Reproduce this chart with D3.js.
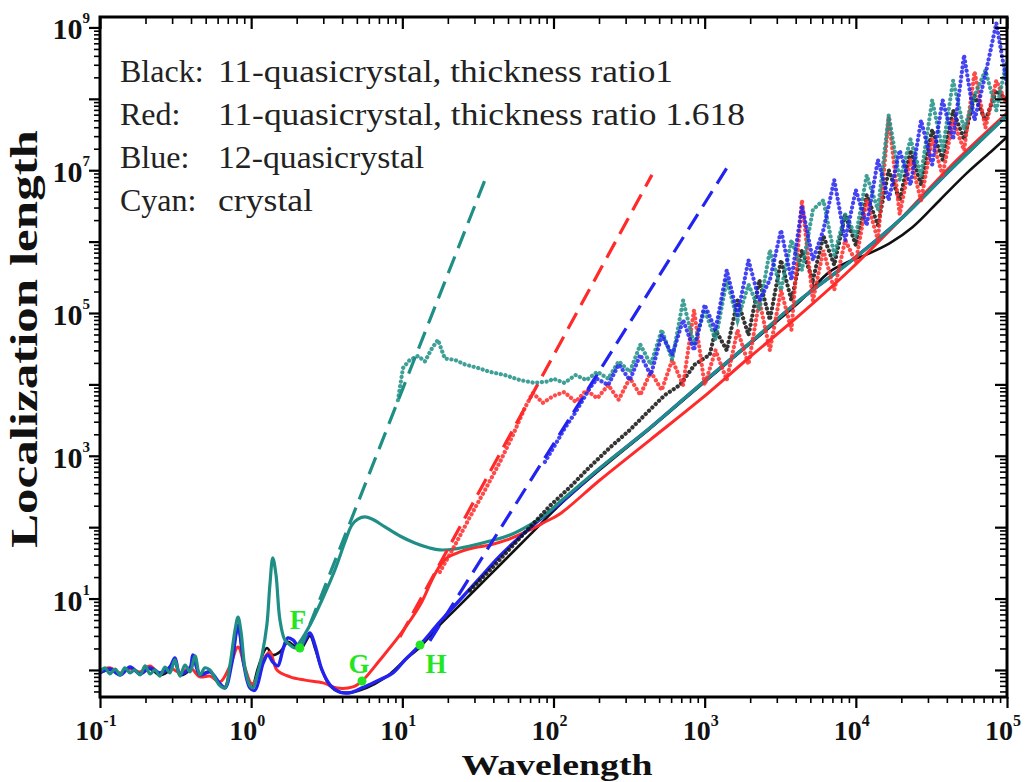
<!DOCTYPE html>
<html>
<head>
<meta charset="utf-8">
<script src="https://cdn.jsdelivr.net/npm/d3@7"></script>
<style>
  body { margin: 0; background: #fff; }
  text { font-family: "Liberation Serif", "Times New Roman", serif; }
</style>
</head>
<body>
<svg id="chart" width="1030" height="782"></svg>
<script>
// ---- data (wavelength, localization length) ----

// solid (averaged) curves
var tealLambda = [0.1, 0.108, 0.116, 0.126, 0.136, 0.146, 0.158, 0.170, 0.184, 0.199, 0.214, 0.231, 0.249, 0.269, 0.290, 0.313, 0.338, 0.365, 0.394, 0.425, 0.458, 0.494, 0.534, 0.576, 0.622, 0.671, 0.724, 0.782, 0.819, 0.857, 0.910, 0.982, 1.03, 1.09, 1.18, 1.27, 1.33, 1.39, 1.46, 1.55, 1.67, 1.81, 1.95, 2.10, 2.45, 2.94, 3.58, 4.17, 4.64, 5.08, 5.66, 6.30, 7.67, 9.64, 12.1, 15.2, 17.7, 22.3, 28.0, 38.0, 51.5, 69.8, 87.7, 110, 203, 434, 930, 1990, 4260, 9120, 19500, 41900, 100000];
var tealL = [0.94, 1.07, 0.88, 1.03, 0.85, 1.07, 0.91, 1.0, 0.85, 1.14, 0.88, 1.0, 0.82, 1.10, 0.91, 1.38, 0.82, 1.17, 0.94, 1.57, 0.85, 1.07, 1.0, 0.77, 0.60, 0.56, 1.17, 3.63, 5.52, 3.41, 1.07, 0.60, 0.56, 0.82, 1.62, 4.27, 15.5, 37.1, 21.4, 5.01, 2.63, 2.24, 2.03, 2.47, 4.27, 9.55, 25.1, 61.9, 108, 130, 139, 130, 101, 75.3, 60.1, 51.1, 48.0, 49.5, 54.5, 64.1, 77.8, 108, 148, 225, 675, 2450, 9810, 3.8e4, 1.52e5, 5.18e5, 2.0e6, 1.0e7, 5.9e7];

var blackLambda = [0.1, 0.116, 0.136, 0.158, 0.184, 0.214, 0.249, 0.290, 0.313, 0.338, 0.394, 0.425, 0.458, 0.534, 0.622, 0.671, 0.724, 0.819, 0.910, 1.01, 1.11, 1.27, 1.39, 1.55, 1.75, 1.89, 2.10, 2.45, 2.64, 2.94, 3.32, 3.86, 4.50, 5.24, 6.59, 8.28, 10.4, 13.1, 17.7, 24.0, 32.6, 44.2, 69.8, 110, 203, 434, 930, 1990, 4260, 6730, 9120, 12400, 16800, 23800, 36000, 54200, 80600, 100000];
var blackL = [0.91, 1.0, 0.88, 1.07, 0.91, 1.03, 0.85, 1.0, 1.29, 0.85, 1.0, 1.38, 0.88, 0.94, 0.62, 0.58, 1.07, 3.63, 1.0, 0.56, 1.07, 2.03, 1.62, 1.79, 2.47, 2.24, 1.91, 3.0, 2.03, 1.0, 0.60, 0.49, 0.48, 0.52, 0.64, 0.88, 1.38, 2.10, 4.27, 8.1, 15.5, 29.5, 78, 205, 640, 2400, 9500, 3.7e4, 1.45e5, 3.8e5, 5.3e5, 6.9e5, 9.5e5, 1.6e6, 3.83e6, 9.1e6, 1.92e7, 2.92e7];

var redLambda = [0.1, 0.116, 0.136, 0.158, 0.184, 0.214, 0.249, 0.290, 0.338, 0.394, 0.458, 0.534, 0.622, 0.724, 0.819, 0.910, 1.01, 1.11, 1.20, 1.33, 1.48, 1.81, 2.27, 2.99, 3.69, 4.71, 5.41, 7.11, 9.64, 13.1, 15.7, 17.7, 19.7, 24.0, 29.3, 38.0, 49.2, 69.8, 87.7, 110, 203, 434, 930, 1990, 4260, 9120, 19500, 41900, 100000];
var redL = [0.97, 1.07, 0.91, 1.03, 0.94, 1.14, 0.88, 1.07, 0.91, 1.07, 0.80, 0.82, 0.68, 1.14, 2.10, 1.07, 0.64, 0.82, 1.38, 1.79, 1.0, 0.80, 0.72, 0.66, 0.56, 0.58, 0.70, 1.38, 3.09, 8.1, 18.2, 28.6, 37.1, 45, 51.1, 56.3, 66.2, 91.4, 118, 153, 458, 1660, 6050, 2.42e4, 9.4e4, 4.0e5, 2.0e6, 1.11e7, 6.3e7];

var blueLambda = [0.1, 0.116, 0.136, 0.158, 0.184, 0.214, 0.249, 0.290, 0.313, 0.338, 0.394, 0.412, 0.458, 0.534, 0.622, 0.671, 0.747, 0.819, 0.896, 0.982, 1.06, 1.20, 1.29, 1.39, 1.50, 1.62, 1.75, 1.89, 2.10, 2.27, 2.45, 2.64, 2.94, 3.32, 3.86, 4.50, 5.41, 6.59, 8.67, 10.4, 13.1, 17.7, 24.0, 32.6, 44.2, 69.8, 110, 203, 434, 930, 1990, 4260, 9120, 19500, 41900, 100000];
var blueL = [0.91, 1.03, 0.85, 1.10, 0.88, 1.07, 0.91, 1.10, 1.47, 0.88, 1.07, 1.62, 0.85, 0.94, 0.64, 0.56, 1.29, 4.27, 1.17, 0.56, 0.52, 1.25, 1.62, 1.29, 1.14, 1.91, 2.81, 2.63, 2.03, 2.63, 3.30, 2.24, 1.0, 0.62, 0.49, 0.48, 0.56, 0.68, 0.91, 1.38, 2.24, 4.70, 9.55, 19.4, 39.5, 97.5, 215, 670, 2450, 9810, 3.8e4, 1.52e5, 5.2e5, 2.0e6, 1.0e7, 5.9e7];

// dashed asymptotes (end points)
var tealDashLambda = [2.10, 35.2];
var tealDashL = [1.9, 7.3e6];
var redDashLambda = [9.64, 448];
var redDashL = [2.9, 8.6e6];
var blueDashLambda = [15.2, 1400];
var blueDashL = [2.55, 1.07e7];

// dotted (single sample) curves
var tealDotLambda = [9.35, 10.1, 11.2, 12.7, 14.1, 15.7, 17.2, 19.1, 22.3, 26, 31.6, 38, 47.7, 60, 75, 92, 100, 118, 140, 165, 195, 230, 270, 320, 375, 440, 520, 610, 720, 850, 1000, 1180, 1400, 1650, 1950, 2300, 2700, 3200, 3750, 4400, 5200, 6100, 7200, 8500, 10000, 11800, 14000, 16500, 19500, 23000, 27000, 32000, 37500, 44000, 52000, 61000, 72000, 85000, 100000];
var tealDotL = [6000, 1.7e4, 2.2e4, 2.5e4, 2.1e4, 3.2e4, 4.2e4, 2.3e4, 2.2e4, 1.9e4, 1.7e4, 1.5e4, 1.35e4, 1.15e4, 1.05e4, 1.1e4, 1.2e4, 1.05e4, 1.35e4, 1.15e4, 1.5e4, 1.2e4, 2.1e4, 1.5e4, 3.6e4, 1.9e4, 5.8e4, 2.2e4, 1.5e5, 3.6e4, 1.1e5, 4.2e4, 2.9e5, 8.0e4, 2.5e5, 1.1e5, 7.6e5, 2.1e5, 1.05e6, 4.0e5, 2.8e6, 3.8e6, 6.5e5, 2.4e6, 1.2e6, 8.5e6, 2.8e6, 5.9e7, 7.3e6, 2.7e7, 8.5e6, 9.6e7, 1.9e7, 1.8e8, 3.7e7, 1.1e8, 2.5e8, 6.9e7, 3.5e8];

var redDotLambda = [17.7, 22.3, 28.0, 35.2, 44.2, 53.9, 64.7, 73, 85, 100, 118, 140, 165, 195, 230, 270, 320, 375, 440, 520, 610, 720, 850, 1000, 1180, 1400, 1650, 1950, 2300, 2700, 3200, 3750, 4400, 5200, 6100, 7200, 8500, 10000, 11800, 14000, 16500, 19500, 23000, 27000, 32000, 37500, 44000, 52000, 61000, 72000, 85000, 100000];
var redDotL = [23.6, 56, 139, 330, 815, 1950, 4700, 7600, 5500, 6900, 7800, 5700, 8300, 6400, 9800, 6100, 1.23e4, 7100, 1.5e4, 8300, 2.2e4, 9800, 1.1e5, 9800, 3.0e4, 1.15e4, 5.8e4, 1.9e4, 1.5e5, 3.0e4, 2.1e5, 5.8e4, 3.8e6, 1.5e5, 7.6e5, 2.1e5, 1.05e6, 5.2e5, 3.8e6, 1.05e6, 5.6e7, 2.4e6, 1.4e7, 3.8e6, 2.7e7, 8.5e6, 5.0e7, 1.9e7, 2.4e8, 3.9e7, 1.8e8, 8.2e7];

var blueDotLambda = [87.7, 102, 119, 139, 156, 174, 194, 230, 270, 320, 375, 440, 520, 610, 720, 850, 1000, 1180, 1400, 1650, 1950, 2300, 2700, 3200, 3750, 4400, 5200, 6100, 7200, 8500, 10000, 11800, 14000, 16500, 19500, 23000, 27000, 32000, 37500, 44000, 52000, 61000, 72000, 85000, 100000];
var blueDotL = [820, 1400, 2450, 4000, 6000, 8900, 1.2e4, 9800, 1.9e4, 1.15e4, 2.6e4, 1.35e4, 4.9e4, 2.6e4, 8.0e4, 3.0e4, 1.3e5, 5.8e4, 4.0e5, 9.4e4, 5.5e5, 1.5e5, 2.9e5, 1.45e6, 2.9e5, 3.2e6, 5.5e5, 1.45e6, 7.3e6, 1.05e6, 5.3e6, 1.7e6, 1.4e7, 3.8e6, 1.9e7, 6.2e6, 5.0e7, 1.2e7, 9.6e7, 2.7e7, 4.1e8, 5.0e7, 2.2e8, 1.15e9, 1.55e8];

var blackDotLambda = [28, 38, 51.5, 70, 95, 128, 174, 236, 320, 434, 546, 686, 861, 1080, 1180, 1400, 1650, 1950, 2300, 2700, 3200, 3750, 4400, 5200, 6100, 7200, 8500, 10000, 11800, 14000, 16500, 19500, 23000, 27000, 32000, 37500, 44000, 52000, 61000, 72000, 85000, 100000];
var blackDotL = [13, 25, 50, 100, 200, 360, 700, 1300, 2300, 4400, 7100, 9800, 1.9e4, 2.6e4, 5.8e4, 3.0e4, 1.5e5, 4.9e4, 2.9e5, 8.0e4, 5.5e5, 1.5e5, 7.6e5, 2.9e5, 1.2e6, 4.7e5, 2.4e6, 8.9e5, 4.5e6, 1.7e6, 1.0e7, 3.8e6, 1.9e7, 6.2e6, 3.7e7, 1.4e7, 6.9e7, 2.7e7, 1.1e8, 5.0e7, 1.3e8, 9.6e7];

// marked points F, G, H
var markNames = ["F", "G", "H"];
var markLambda = [2.10, 5.41, 13.1];
var markL = [2.03, 0.70, 2.24];

var legendKeys = ["Black:", "Red:", "Blue:", "Cyan:"];
var legendTexts = ["11-quasicrystal, thickness ratio1", "11-quasicrystal, thickness ratio 1.618", "12-quasicrystal", "crystal"];

var xDecades = [-1, 0, 1, 2, 3, 4, 5];
var yDecades = [0, 1, 2, 3, 4, 5, 6, 7, 8, 9];
var yLabelDecades = [1, 3, 5, 7, 9];

// ---- colours ----
var cTeal = "#1f8f86", cRed = "#ff2a2a", cBlue = "#2323f0", cBlack = "#111111", cGreen = "#22e622";

var svg = d3.select("#chart");
svg.append("rect").attr("width", 1030).attr("height", 782).attr("fill", "#fff");

var x = d3.scaleLog().domain([0.1, 1e5]).range([100, 1007]);
var y = d3.scaleLog().domain([0.418, 1.4e9]).range([697, 17]);

svg.append("clipPath").attr("id", "plotclip")
  .append("rect").attr("x", 100).attr("y", 17).attr("width", 907).attr("height", 680);
var plot = svg.append("g").attr("clip-path", "url(#plotclip)");

function pairs(lam, val) {
  return lam.map(function (l, i) { return [l, val[i]]; });
}

var smooth = d3.line()
  .x(function (d) { return x(d[0]); })
  .y(function (d) { return y(d[1]); })
  .curve(d3.curveCatmullRom.alpha(0.5));
var straight = d3.line()
  .x(function (d) { return x(d[0]); })
  .y(function (d) { return y(d[1]); });

// solid lines
var solids = [
  { lam: blackLambda, val: blackL, color: cBlack, w: 2.6 },
  { lam: redLambda, val: redL, color: cRed, w: 3 },
  { lam: blueLambda, val: blueL, color: cBlue, w: 3.4 },
  { lam: tealLambda, val: tealL, color: cTeal, w: 3.2 }
];
// dashed lines
var dashes = [
  { lam: tealDashLambda, val: tealDashL, color: cTeal },
  { lam: redDashLambda, val: redDashL, color: cRed },
  { lam: blueDashLambda, val: blueDashL, color: cBlue }
];
// dotted lines
var dots = [
  { lam: blackDotLambda, val: blackDotL, color: cBlack },
  { lam: redDotLambda, val: redDotL, color: cRed },
  { lam: tealDotLambda, val: tealDotL, color: cTeal },
  { lam: blueDotLambda, val: blueDotL, color: cBlue }
];

plot.selectAll("path.solid").data(solids).enter().append("path")
  .attr("class", "solid")
  .attr("d", function (s) { return smooth(pairs(s.lam, s.val)); })
  .attr("fill", "none")
  .attr("stroke", function (s) { return s.color; })
  .attr("stroke-width", function (s) { return s.w; })
  .attr("stroke-linejoin", "round");

plot.selectAll("path.dash").data(dashes).enter().append("path")
  .attr("class", "dash")
  .attr("d", function (s) { return straight(pairs(s.lam, s.val)); })
  .attr("fill", "none")
  .attr("stroke", function (s) { return s.color; })
  .attr("stroke-width", 3.2)
  .attr("stroke-dasharray", "18,9");

plot.selectAll("path.dot").data(dots).enter().append("path")
  .attr("class", "dot")
  .attr("d", function (s) { return straight(pairs(s.lam, s.val)); })
  .attr("fill", "none")
  .attr("stroke", function (s) { return s.color; })
  .attr("stroke-width", 4.2)
  .attr("stroke-linecap", "round")
  .attr("stroke-dasharray", "0.1,4.6")
  .attr("opacity", 0.85);

// F, G, H marks
var marks = markNames.map(function (n, i) { return { name: n, lam: markLambda[i], val: markL[i] }; });
plot.selectAll("circle.mark").data(marks).enter().append("circle")
  .attr("class", "mark")
  .attr("cx", function (d) { return x(d.lam); })
  .attr("cy", function (d) { return y(d.val); })
  .attr("r", 4.5)
  .attr("fill", cGreen);
var markOffset = { F: [-2, -19], G: [-3, -8], H: [16, 28] };
svg.selectAll("text.mark").data(marks).enter().append("text")
  .attr("class", "mark")
  .attr("x", function (d) { return x(d.lam) + markOffset[d.name][0]; })
  .attr("y", function (d) { return y(d.val) + markOffset[d.name][1]; })
  .attr("text-anchor", "middle")
  .attr("font-weight", "bold")
  .attr("font-size", 27)
  .attr("fill", cGreen)
  .text(function (d) { return d.name; });

// ---- axes ----
var xMajor = xDecades.map(function (k) { return Math.pow(10, k); });
var xMinor = [];
xMajor.slice(0, -1).forEach(function (m) { for (var j = 2; j < 10; j++) xMinor.push(m * j); });
var yMajor = yDecades.map(function (k) { return Math.pow(10, k); });
var yMinor = [];
[0.1].concat(yMajor).forEach(function (m) {
  for (var j = 2; j < 10; j++) {
    var v = m * j;
    if (v > y.domain()[0] && v < y.domain()[1]) yMinor.push(v);
  }
});

function drawAxis(gen, transform, values, size, width) {
  var g = svg.append("g").attr("transform", transform)
    .call(gen.tickValues(values).tickSize(size).tickFormat(""));
  g.select(".domain").remove();
  g.selectAll("line").attr("stroke", "#000").attr("stroke-width", width);
}
// bottom and left ticks point outwards, top and right ticks inwards
drawAxis(d3.axisBottom(x), "translate(0,697)", xMajor, 11, 2.2);
drawAxis(d3.axisBottom(x), "translate(0,697)", xMinor, 6, 1.6);
drawAxis(d3.axisLeft(y), "translate(100,0)", yMajor, 11, 2.2);
drawAxis(d3.axisLeft(y), "translate(100,0)", yMinor, 6, 1.6);
drawAxis(d3.axisTop(x), "translate(0,17)", xMajor, -12, 2.2);
drawAxis(d3.axisTop(x), "translate(0,17)", xMinor, -7, 1.6);
drawAxis(d3.axisRight(y), "translate(1007,0)", yMajor, -12, 2.2);
drawAxis(d3.axisRight(y), "translate(1007,0)", yMinor, -7, 1.6);

svg.append("rect")
  .attr("x", 100).attr("y", 17).attr("width", 907).attr("height", 680)
  .attr("fill", "none").attr("stroke", "#000").attr("stroke-width", 3);

// tick labels: 10 with superscript
var xl = svg.selectAll("text.xlab").data(xDecades).enter().append("text")
  .attr("class", "xlab")
  .attr("x", function (k) { return x(Math.pow(10, k)) - 4; })
  .attr("y", 740)
  .attr("text-anchor", "middle")
  .attr("font-weight", "bold")
  .attr("font-size", 28)
  .attr("fill", "#111");
xl.append("tspan").text("10");
xl.append("tspan").attr("font-size", 16).attr("dy", -14).text(function (k) { return k; });

var yl = svg.selectAll("text.ylab").data(yLabelDecades).enter().append("text")
  .attr("class", "ylab")
  .attr("x", 90)
  .attr("y", function (k) { return y(Math.pow(10, k)) + 12; })
  .attr("text-anchor", "end")
  .attr("font-weight", "bold")
  .attr("font-size", 30)
  .attr("fill", "#111");
yl.append("tspan").text("10");
yl.append("tspan").attr("font-size", 15).attr("dy", -16).text(function (k) { return k; });

// axis titles
svg.append("text")
  .attr("transform", "translate(37,339) rotate(-90)")
  .attr("text-anchor", "middle")
  .attr("font-weight", "bold")
  .attr("font-size", 38)
  .attr("textLength", 418)
  .attr("lengthAdjust", "spacingAndGlyphs")
  .attr("fill", "#111")
  .text("Localization length");
svg.append("text")
  .attr("x", 557).attr("y", 775)
  .attr("text-anchor", "middle")
  .attr("font-weight", "bold")
  .attr("font-size", 30)
  .attr("textLength", 191)
  .attr("lengthAdjust", "spacingAndGlyphs")
  .attr("fill", "#111")
  .text("Wavelength");

// legend text
var leg = svg.append("g").attr("fill", "#222").attr("font-size", 32);
leg.selectAll("text.key").data(legendKeys).enter().append("text")
  .attr("class", "key")
  .attr("x", 120)
  .attr("y", function (d, i) { return 82 + i * 43; })
  .text(function (d) { return d; });
var descWidth = [455, 527, 206, 95];
leg.selectAll("text.desc").data(legendTexts).enter().append("text")
  .attr("class", "desc")
  .attr("x", 218)
  .attr("y", function (d, i) { return 82 + i * 43; })
  .attr("textLength", function (d, i) { return descWidth[i]; })
  .attr("lengthAdjust", "spacingAndGlyphs")
  .text(function (d) { return d; });
</script>
</body>
</html>
